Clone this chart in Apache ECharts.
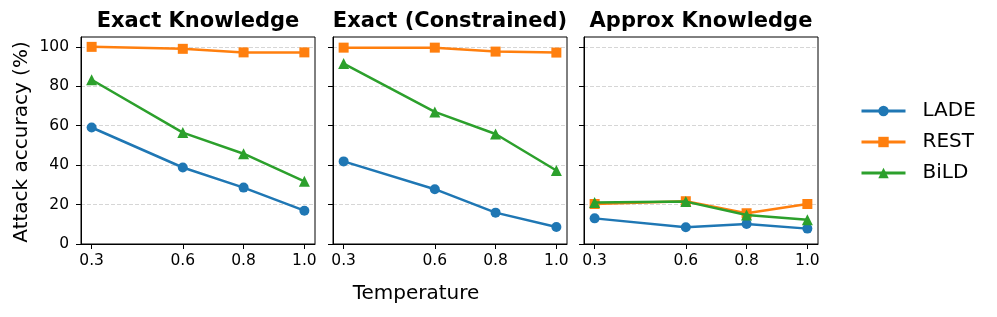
<!DOCTYPE html>
<html><head><meta charset="utf-8">
<script src="https://cdn.jsdelivr.net/npm/echarts@6/dist/echarts.min.js"></script>
<style>html,body{margin:0;padding:0;background:#fff}#c{width:997px;height:317px}</style>
</head><body><div id="c"></div>
<script>
// ---- data ----
const temperatures = [0.3, 0.6, 0.8, 1.0];
const xTickLabels = [0.3, 0.6, 0.8, 1.0];
const yTickValues = [0, 20, 40, 60, 80, 100];
const panelTitles = ['Exact Knowledge', 'Exact (Constrained)', 'Approx Knowledge'];
const seriesNames = ['LADE', 'REST', 'BiLD'];

const exactLADE = [59.1, 38.8, 28.6, 16.9];
const exactREST = [100.0, 99.0, 97.2, 97.2];
const exactBiLD = [83.3, 56.5, 45.8, 31.8];

const constrainedLADE = [41.9, 27.8, 15.9, 8.6];
const constrainedREST = [99.6, 99.6, 97.6, 97.1];
const constrainedBiLD = [91.5, 67.0, 55.8, 37.3];

const approxLADE = [13.0, 8.5, 10.2, 7.8];
const approxREST = [20.3, 21.7, 15.6, 20.3];
const approxBiLD = [21.0, 21.5, 14.7, 12.3];

const panels = [
  [exactLADE, exactREST, exactBiLD],
  [constrainedLADE, constrainedREST, constrainedBiLD],
  [approxLADE, approxREST, approxBiLD]
];

// ---- style ----
const FONT = 'DejaVu Sans';
const colors = ['#1f77b4', '#ff7f0e', '#2ca02c'];
const symbols = ['circle', 'rect', 'triangle'];
const symbolSizes = [10, 10, 11];
const gridLefts = [81, 333, 584];
const gridW = 234, gridTop = 37, gridH = 207;

const chart = echarts.init(document.getElementById('c'), null, {renderer: 'canvas'});

const grids = [], xAxes = [], yAxes = [], series = [], titles = [];
panels.forEach((vals, p) => {
  grids.push({left: gridLefts[p], top: gridTop, width: gridW, height: gridH,
    show: true, borderColor: '#000', borderWidth: 1, backgroundColor: 'transparent'});
  xAxes.push({type: 'value', gridIndex: p, min: 0.265, max: 1.035,
    axisLine: {show: true, onZero: false, lineStyle: {color: '#000', width: 1}},
    axisTick: {show: true, length: 5, lineStyle: {color: '#000', width: 1}, customValues: xTickLabels},
    axisLabel: {show: true, margin: 9, fontFamily: FONT, fontSize: 15.5, color: '#000',
      customValues: xTickLabels, formatter: v => Number(v).toFixed(1)},
    splitLine: {show: false}});
  yAxes.push({type: 'value', gridIndex: p, min: 0, max: 105,
    axisLine: {show: true, lineStyle: {color: '#000', width: 1}},
    axisTick: {show: true, length: 5, lineStyle: {color: '#000', width: 1}, customValues: yTickValues},
    axisLabel: {show: p === 0, margin: 12, fontFamily: FONT, fontSize: 15.5, color: '#000',
      customValues: yTickValues},
    splitLine: {show: true, lineStyle: {color: '#cccccc', width: 0.8, type: [4, 2]}}});
  titles.push({text: panelTitles[p], left: gridLefts[p] + gridW / 2, top: 11, textAlign: 'center', padding: 0,
    textStyle: {fontFamily: FONT, fontSize: 21, fontWeight: 'bold', color: '#000'}});
  vals.forEach((arr, s) => {
    series.push({name: seriesNames[s], type: 'line', xAxisIndex: p, yAxisIndex: p,
      data: temperatures.map((t, i) => [t, arr[i]]),
      symbol: symbols[s], symbolSize: symbolSizes[s], showSymbol: true,
      lineStyle: {color: colors[s], width: 2.5}, itemStyle: {color: colors[s]},
      z: 2 + s, animation: false});
  });
});

chart.setOption({
  animation: false,
  color: colors,
  title: titles,
  grid: grids,
  xAxis: xAxes,
  yAxis: yAxes,
  series: series,
  legend: {orient: 'vertical', left: 860, top: 101, padding: 0, itemWidth: 44, itemHeight: 13, itemGap: 11,
    data: seriesNames,
    lineStyle: {width: 3},
    textStyle: {fontFamily: FONT, fontSize: 20, color: '#000', padding: [0, 0, 0, 12]}},
  graphic: [
    {type: 'text', x: 416, y: 294, style: {text: 'Temperature', fontFamily: FONT, fontSize: 20,
      fill: '#000', textAlign: 'center', textVerticalAlign: 'middle'}},
    {type: 'text', x: 22, y: 142, rotation: Math.PI / 2, style: {text: 'Attack accuracy (%)',
      fontFamily: FONT, fontSize: 20, fill: '#000', textAlign: 'center', textVerticalAlign: 'middle'}}
  ]
});
</script></body></html>
